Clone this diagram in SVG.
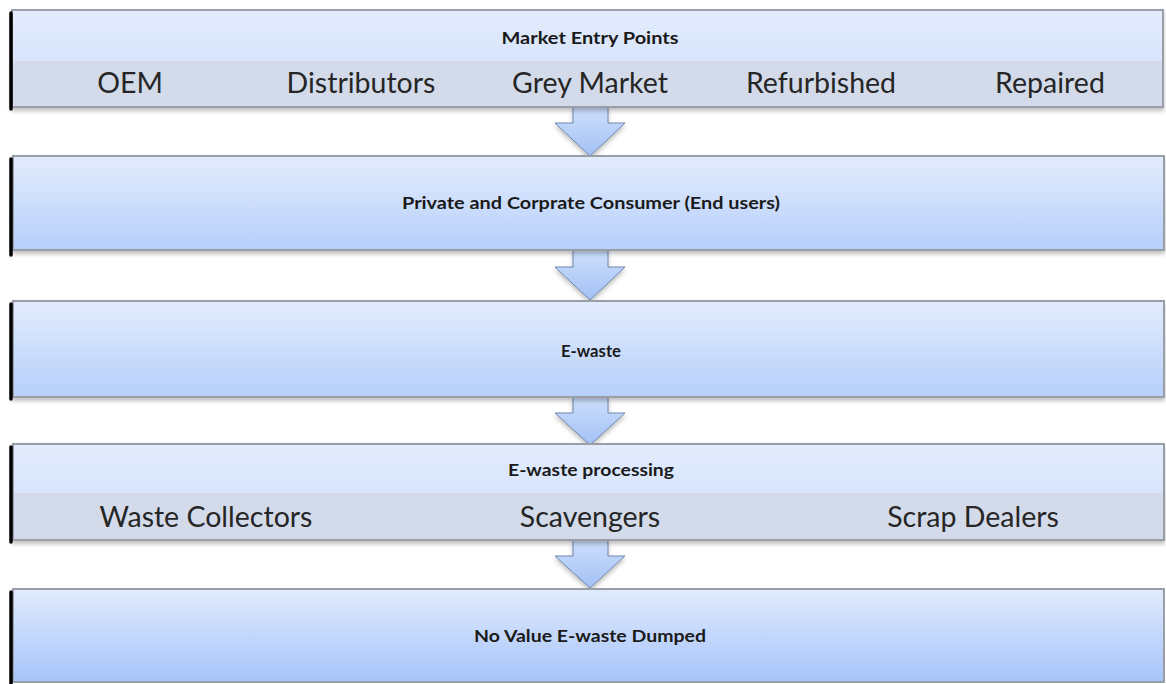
<svg xmlns="http://www.w3.org/2000/svg" width="1166" height="684" viewBox="0 0 1166 684">
<defs>
<linearGradient id="boxg" x1="0" y1="0" x2="0" y2="1">
<stop offset="0" stop-color="#e3ecfd"/>
<stop offset="1" stop-color="#b6cffb"/>
</linearGradient>
<linearGradient id="boxg5" x1="0" y1="0" x2="0" y2="1">
<stop offset="0" stop-color="#e1ebfd"/>
<stop offset="1" stop-color="#a6c4fa"/>
</linearGradient>
<linearGradient id="topg" x1="0" y1="0" x2="0" y2="1">
<stop offset="0" stop-color="#e3ecfd"/>
<stop offset="1" stop-color="#cfdefb"/>
</linearGradient>
<linearGradient id="arrg" x1="0" y1="0" x2="0" y2="1">
<stop offset="0" stop-color="#cddffc"/>
<stop offset="1" stop-color="#a3c1f6"/>
</linearGradient>
<filter id="sh" x="-5%" y="-10%" width="110%" height="130%">
<feDropShadow dx="0" dy="3" stdDeviation="2" flood-color="#000" flood-opacity="0.25"/>
</filter>
</defs>
<style>
.box{stroke:#9a9ea6;stroke-width:2}
.edge{stroke:#000;stroke-width:3.5;stroke-linecap:round}
.band{fill:#d3dbea}
.t{font-family:Lato,"Open Sans","Liberation Sans",sans-serif;font-weight:bold;font-size:17px;fill:#1a1a1a;text-anchor:middle}
.b{font-family:Lato,"Open Sans","Liberation Sans",sans-serif;font-size:28.5px;fill:#262626;text-anchor:middle}
.arr{fill:url(#arrg);stroke:#6e86ad;stroke-width:1}
</style>
<rect width="1166" height="684" fill="#fff"/>
<g id="connectors">
<path class="arr" d="M573,107 L608,107 L608,123 L625,123 L590,156 L555,123 L573,123 Z" filter="url(#sh)"/>
<path class="arr" d="M573,250 L608,250 L608,267 L625,267 L590,300 L555,267 L573,267 Z" filter="url(#sh)"/>
<path class="arr" d="M573,397 L608,397 L608,413 L625,413 L590,445 L555,413 L573,413 Z" filter="url(#sh)"/>
<path class="arr" d="M573,540 L608,540 L608,556 L625,556 L590,588 L555,556 L573,556 Z" filter="url(#sh)"/>
</g>
<g id="market-entry">
<rect class="box" x="12" y="10" width="1151" height="97" fill="url(#topg)" filter="url(#sh)"/>
<rect class="band" x="13" y="61" width="1149" height="45"/>
<line class="edge" x1="11" y1="13" x2="11" y2="109"/>
<text class="t" x="590" y="44" textLength="177" lengthAdjust="spacingAndGlyphs">Market Entry Points</text>
<text class="b" x="130" y="93">OEM</text>
<text class="b" x="361" y="93">Distributors</text>
<text class="b" x="590" y="93">Grey Market</text>
<text class="b" x="821" y="93">Refurbished</text>
<text class="b" x="1050" y="93">Repaired</text>
</g>
<g id="consumer">
<rect class="box" x="13" y="156" width="1151" height="94" fill="url(#boxg)" filter="url(#sh)"/>
<line class="edge" x1="11" y1="159" x2="11" y2="255"/>
<text class="t" x="591" y="209" textLength="378" lengthAdjust="spacingAndGlyphs">Private and Corprate Consumer (End users)</text>
</g>
<g id="ewaste">
<rect class="box" x="13" y="301" width="1151" height="96" fill="url(#boxg)" filter="url(#sh)"/>
<line class="edge" x1="11" y1="304" x2="11" y2="399"/>
<text class="t" x="591" y="357" textLength="60" lengthAdjust="spacingAndGlyphs">E-waste</text>
</g>
<g id="processing">
<rect class="box" x="13" y="444" width="1151" height="96" fill="url(#topg)" filter="url(#sh)"/>
<rect class="band" x="14" y="493" width="1149" height="46"/>
<line class="edge" x1="11" y1="447" x2="11" y2="542"/>
<text class="t" x="591" y="476" textLength="166" lengthAdjust="spacingAndGlyphs">E-waste processing</text>
<text class="b" x="206" y="527">Waste Collectors</text>
<text class="b" x="590" y="527">Scavengers</text>
<text class="b" x="973" y="527">Scrap Dealers</text>
</g>
<g id="dumped">
<rect class="box" x="13" y="589" width="1151" height="93" fill="url(#boxg5)"/>
<line class="edge" x1="11" y1="592" x2="11" y2="684"/>
<text class="t" x="590" y="642" textLength="232" lengthAdjust="spacingAndGlyphs">No Value E-waste Dumped</text>
</g>
</svg>
